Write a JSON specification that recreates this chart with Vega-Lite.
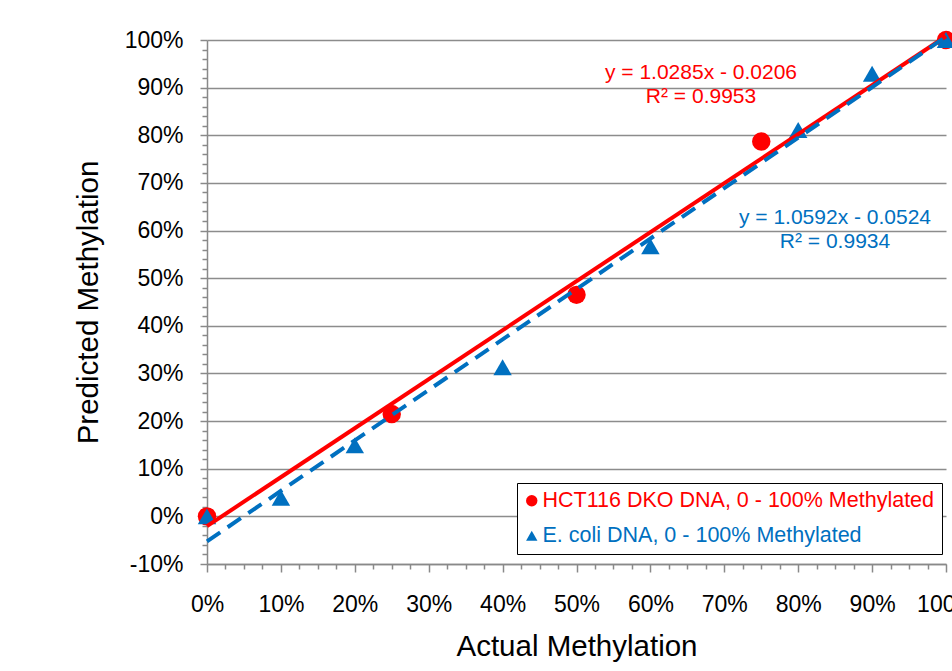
{
  "$schema": "https://vega.github.io/schema/vega-lite/v6.json",
  "width": 739,
  "height": 524,
  "autosize": {"type": "none"},
  "padding": {"left": 207, "top": 40, "right": 6, "bottom": 107},
  "background": "white",
  "config": {
    "view": {"stroke": null},
    "font": "Liberation Sans",
    "axis": {"labelFont": "Liberation Sans", "titleFont": "Liberation Sans"}
  },
  "datasets": {
    "points": [
      {"series": "HCT116 DKO DNA, 0 - 100% Methylated", "actual": 0, "predicted": 0},
      {"series": "HCT116 DKO DNA, 0 - 100% Methylated", "actual": 0.25, "predicted": 0.215},
      {"series": "HCT116 DKO DNA, 0 - 100% Methylated", "actual": 0.5, "predicted": 0.465},
      {"series": "HCT116 DKO DNA, 0 - 100% Methylated", "actual": 0.75, "predicted": 0.787},
      {"series": "HCT116 DKO DNA, 0 - 100% Methylated", "actual": 1, "predicted": 1},
      {"series": "E. coli DNA, 0 - 100% Methylated", "actual": 0, "predicted": 0},
      {"series": "E. coli DNA, 0 - 100% Methylated", "actual": 0.1, "predicted": 0.039},
      {"series": "E. coli DNA, 0 - 100% Methylated", "actual": 0.2, "predicted": 0.149},
      {"series": "E. coli DNA, 0 - 100% Methylated", "actual": 0.4, "predicted": 0.313},
      {"series": "E. coli DNA, 0 - 100% Methylated", "actual": 0.6, "predicted": 0.567},
      {"series": "E. coli DNA, 0 - 100% Methylated", "actual": 0.8, "predicted": 0.811},
      {"series": "E. coli DNA, 0 - 100% Methylated", "actual": 0.9, "predicted": 0.929},
      {"series": "E. coli DNA, 0 - 100% Methylated", "actual": 1, "predicted": 1}
    ],
    "trend": [
      {"series": "HCT116 DKO DNA, 0 - 100% Methylated", "actual": 0, "predicted": -0.0206},
      {"series": "HCT116 DKO DNA, 0 - 100% Methylated", "actual": 1, "predicted": 1.0079},
      {"series": "E. coli DNA, 0 - 100% Methylated", "actual": 0, "predicted": -0.0524},
      {"series": "E. coli DNA, 0 - 100% Methylated", "actual": 1, "predicted": 1.0068}
    ],
    "labels": [
      {"series": "HCT116 DKO DNA, 0 - 100% Methylated", "actual": 0.6685, "predicted": 0.93, "text": "y = 1.0285x - 0.0206"},
      {"series": "HCT116 DKO DNA, 0 - 100% Methylated", "actual": 0.6685, "predicted": 0.8795, "text": "R² = 0.9953"},
      {"series": "E. coli DNA, 0 - 100% Methylated", "actual": 0.8498, "predicted": 0.6255, "text": "y = 1.0592x - 0.0524"},
      {"series": "E. coli DNA, 0 - 100% Methylated", "actual": 0.8498, "predicted": 0.575, "text": "R² = 0.9934"}
    ]
  },
  "layer": [
    {
      "data": {"name": "points"},
      "mark": {"type": "point", "filled": true, "opacity": 1, "size": 340, "strokeWidth": 0},
      "encoding": {
        "x": {
          "field": "actual", "type": "quantitative",
          "scale": {"domain": [0, 1], "nice": false, "zero": false},
          "axis": {
            "title": "Actual Methylation",
            "tickCount": 200,
            "values": [0, 0.025, 0.05, 0.075, 0.1, 0.125, 0.15, 0.175, 0.2, 0.225, 0.25, 0.275, 0.3, 0.325, 0.35, 0.375, 0.4, 0.425, 0.45, 0.475, 0.5, 0.525, 0.55, 0.575, 0.6, 0.625, 0.65, 0.675, 0.7, 0.725, 0.75, 0.775, 0.8, 0.825, 0.85, 0.875, 0.9, 0.925, 0.95, 0.975, 1],
            "labelExpr": "abs(datum.value*10-round(datum.value*10))<1e-6 ? format(datum.value,'.0%') : ''",
            "grid": false,
            "domainColor": "#898989", "domainWidth": 1.5,
            "tickColor": "#898989", "tickWidth": 1.5,
            "tickSize": {"condition": {"test": "abs(datum.value*10-round(datum.value*10))<1e-6", "value": 8}, "value": 5},
            "labelFontSize": 23, "labelColor": "#000000", "labelPadding": 21,
            "labelFlush": false, "labelOverlap": false, "labelBound": false,
            "titleFontSize": 29.5, "titleFontWeight": "normal", "titleColor": "#000000", "titlePadding": 16
          }
        },
        "y": {
          "field": "predicted", "type": "quantitative",
          "scale": {"domain": [-0.1, 1], "nice": false, "zero": false},
          "axis": {
            "title": "Predicted Methylation",
            "tickCount": 200,
            "values": [-0.1, -0.08, -0.06, -0.04, -0.02, 0, 0.02, 0.04, 0.06, 0.08, 0.1, 0.12, 0.14, 0.16, 0.18, 0.2, 0.22, 0.24, 0.26, 0.28, 0.3, 0.32, 0.34, 0.36, 0.38, 0.4, 0.42, 0.44, 0.46, 0.48, 0.5, 0.52, 0.54, 0.56, 0.58, 0.6, 0.62, 0.64, 0.66, 0.68, 0.7, 0.72, 0.74, 0.76, 0.78, 0.8, 0.82, 0.84, 0.86, 0.88, 0.9, 0.92, 0.94, 0.96, 0.98, 1],
            "labelExpr": "abs(datum.value*10-round(datum.value*10))<1e-6 ? replace(format(datum.value,'.0%'),'−','-') : ''",
            "grid": true,
            "gridColor": "#8c8c8c", "gridWidth": 1.5,
            "gridOpacity": {"condition": {"test": "abs(datum.value*10-round(datum.value*10))<1e-6", "value": 1}, "value": 0},
            "domainColor": "#898989", "domainWidth": 1.5,
            "tickColor": "#898989", "tickWidth": 1.5,
            "tickSize": {"condition": {"test": "abs(datum.value*10-round(datum.value*10))<1e-6", "value": 7}, "value": 5},
            "labelFontSize": 23, "labelColor": "#000000", "labelPadding": 17,
            "labelOverlap": false, "labelBound": false, "labelFlush": false,
            "titleFontSize": 29.5, "titleFontWeight": "normal", "titleColor": "#000000", "titlePadding": 21
          }
        },
        "color": {
          "field": "series", "type": "nominal",
          "scale": {"domain": ["HCT116 DKO DNA, 0 - 100% Methylated", "E. coli DNA, 0 - 100% Methylated"], "range": ["#FF0000", "#0070C0"]},
          "legend": {
            "title": null, "orient": "none", "legendX": 310, "legendY": 443,
            "strokeColor": "#000000", "fillColor": "#ffffff",
            "padding": 7, "rowPadding": 12, "labelFontSize": 21.5, "labelFont": "Liberation Sans",
            "symbolSize": 130, "symbolStrokeWidth": 0, "labelOffset": 0, "labelLimit": 0, "symbolOffset": -3,
            "labelColor": {"expr": "datum.value == 'E. coli DNA, 0 - 100% Methylated' ? '#0070C0' : '#FF0000'"}
          }
        },
        "shape": {
          "field": "series", "type": "nominal",
          "scale": {"domain": ["HCT116 DKO DNA, 0 - 100% Methylated", "E. coli DNA, 0 - 100% Methylated"], "range": ["circle", "triangle-up"]},
          "legend": {
            "title": null, "orient": "none", "legendX": 310, "legendY": 443,
            "strokeColor": "#000000", "fillColor": "#ffffff",
            "padding": 7, "rowPadding": 12, "labelFontSize": 21.5, "labelFont": "Liberation Sans",
            "symbolSize": 130, "symbolStrokeWidth": 0, "labelOffset": 0, "labelLimit": 0, "symbolOffset": -3,
            "labelColor": {"expr": "datum.value == 'E. coli DNA, 0 - 100% Methylated' ? '#0070C0' : '#FF0000'"}
          }
        }
      }
    },
    {
      "data": {"name": "trend"},
      "transform": [{"filter": "datum.series == 'HCT116 DKO DNA, 0 - 100% Methylated'"}],
      "mark": {"type": "line", "color": "#FF0000", "strokeWidth": 4, "clip": false},
      "encoding": {
        "x": {"field": "actual", "type": "quantitative"},
        "y": {"field": "predicted", "type": "quantitative"}
      }
    },
    {
      "data": {"name": "trend"},
      "transform": [{"filter": "datum.series == 'E. coli DNA, 0 - 100% Methylated'"}],
      "mark": {"type": "line", "color": "#0070C0", "strokeWidth": 4, "strokeDash": [16, 9], "strokeCap": "butt", "clip": false},
      "encoding": {
        "x": {"field": "actual", "type": "quantitative"},
        "y": {"field": "predicted", "type": "quantitative"}
      }
    },
    {
      "data": {"name": "labels"},
      "transform": [{"filter": "datum.series == 'HCT116 DKO DNA, 0 - 100% Methylated'"}],
      "mark": {"type": "text", "color": "#FF0000", "fontSize": 21, "font": "Liberation Sans", "align": "center", "baseline": "middle"},
      "encoding": {
        "x": {"field": "actual", "type": "quantitative"},
        "y": {"field": "predicted", "type": "quantitative"},
        "text": {"field": "text"}
      }
    },
    {
      "data": {"name": "labels"},
      "transform": [{"filter": "datum.series == 'E. coli DNA, 0 - 100% Methylated'"}],
      "mark": {"type": "text", "color": "#0070C0", "fontSize": 21, "font": "Liberation Sans", "align": "center", "baseline": "middle"},
      "encoding": {
        "x": {"field": "actual", "type": "quantitative"},
        "y": {"field": "predicted", "type": "quantitative"},
        "text": {"field": "text"}
      }
    }
  ]
}
